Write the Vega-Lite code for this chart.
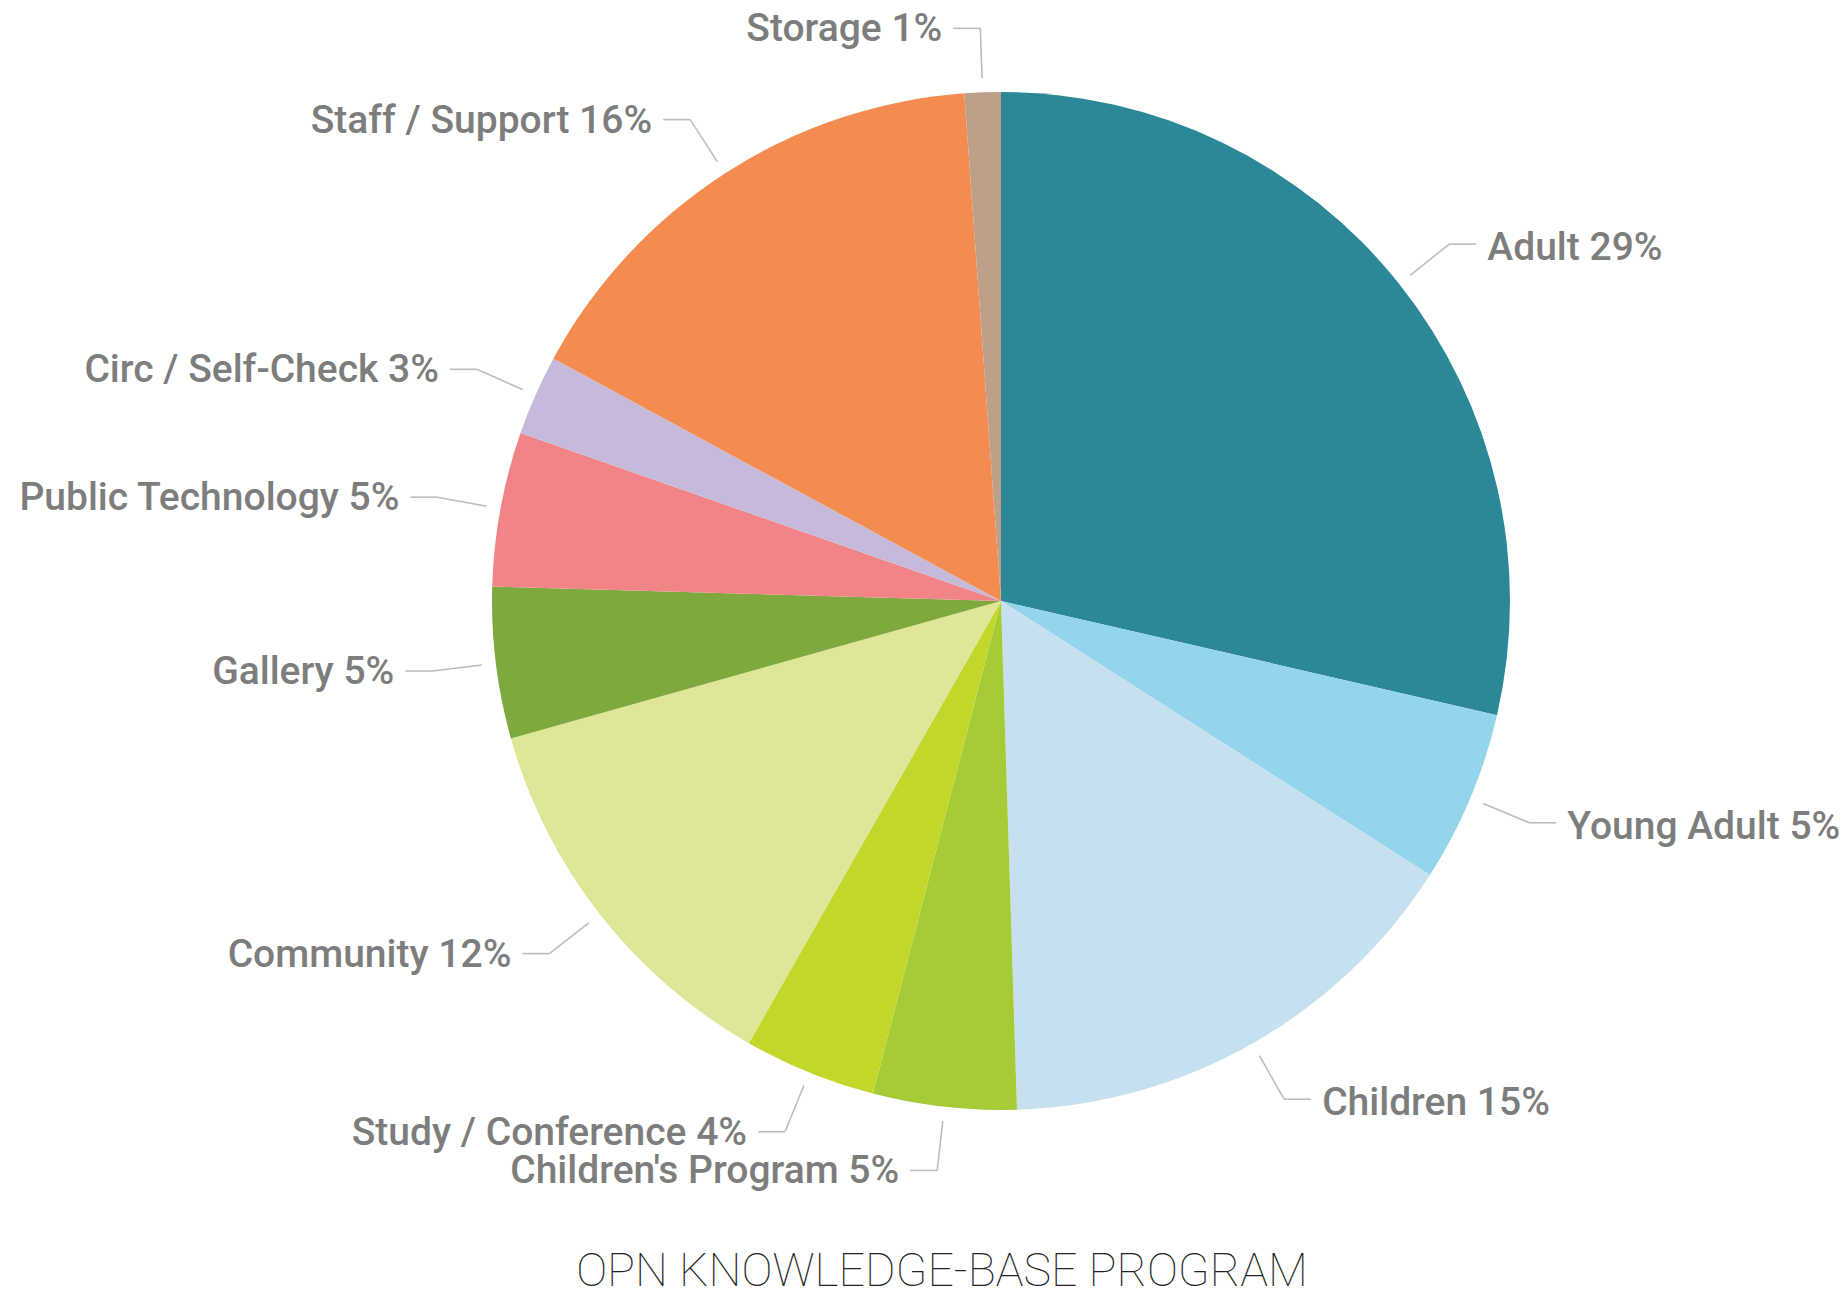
{
  "$schema": "https://vega.github.io/schema/vega-lite/v6.json",
  "autosize": {"type": "none"},
  "padding": {"left": 155, "top": 0, "right": 0, "bottom": 94},
  "width": 1692,
  "height": 1202,
  "background": "white",
  "title": {
    "text": "OPN KNOWLEDGE-BASE PROGRAM",
    "orient": "bottom",
    "frame": "group",
    "anchor": "middle",
    "dx": -59,
    "offset": 47,
    "font": "Roboto",
    "fontWeight": 100,
    "fontSize": 46.5,
    "color": "#222222"
  },
  "config": {"view": {"stroke": null}},
  "data": {
    "values": [
      {"idx": 1, "category": "Adult", "label": "Adult 29%", "value": 28.6},
      {"idx": 2, "category": "Young Adult", "label": "Young Adult 5%", "value": 5.45},
      {"idx": 3, "category": "Children", "label": "Children 15%", "value": 15.45},
      {"idx": 4, "category": "Children's Program", "label": "Children's Program 5%", "value": 4.55},
      {"idx": 5, "category": "Study / Conference", "label": "Study / Conference 4%", "value": 4.2},
      {"idx": 6, "category": "Community", "label": "Community 12%", "value": 12.4},
      {"idx": 7, "category": "Gallery", "label": "Gallery 5%", "value": 4.8},
      {"idx": 8, "category": "Public Technology", "label": "Public Technology 5%", "value": 4.9},
      {"idx": 9, "category": "Circ / Self-Check", "label": "Circ / Self-Check 3%", "value": 2.55},
      {"idx": 10, "category": "Staff / Support", "label": "Staff / Support 16%", "value": 15.95},
      {"idx": 11, "category": "Storage", "label": "Storage 1%", "value": 1.15}
    ]
  },
  "transform": [
    {"joinaggregate": [{"op": "sum", "field": "value", "as": "total"}]},
    {"window": [{"op": "sum", "field": "value", "as": "cum"}], "sort": [{"field": "idx"}], "frame": [null, 0]},
    {"calculate": "2*PI*(datum.cum - datum.value/2)/datum.total", "as": "a"},
    {"calculate": "sin(datum.a)", "as": "s"},
    {"calculate": "cos(datum.a)", "as": "c"},
    {"calculate": "datum.s >= 0 ? 1 : -1", "as": "side"},
    {"calculate": "1.0275*datum.s", "as": "x0"},
    {"calculate": "1.0275*datum.c", "as": "y0"},
    {"calculate": "1.1257*datum.s", "as": "x1"},
    {"calculate": "1.1257*datum.c", "as": "y1"},
    {"calculate": "datum.x1 + datum.side*0.053", "as": "x2"},
    {"calculate": "datum.x1 + datum.side*0.0747", "as": "xt"}
  ],
  "layer": [
    {
      "mark": {"type": "arc", "outerRadius": 509, "stroke": null},
      "encoding": {
        "theta": {"field": "value", "type": "quantitative", "stack": true},
        "order": {"field": "idx", "type": "quantitative"},
        "color": {
          "field": "category",
          "type": "nominal",
          "legend": null,
          "scale": {
            "domain": ["Adult", "Young Adult", "Children", "Children's Program", "Study / Conference", "Community", "Gallery", "Public Technology", "Circ / Self-Check", "Staff / Support", "Storage"],
            "range": ["#2C8898", "#94D4ED", "#C7E0EF", "#A5CC36", "#C2D62C", "#E0E698", "#7FA83F", "#F28488", "#C6B9DA", "#F48C51", "#BEA08A"]
          }
        }
      }
    },
    {
      "mark": {"type": "rule", "color": "#bdbdbd", "strokeWidth": 1.6},
      "encoding": {
        "x": {"field": "x0", "type": "quantitative", "axis": null, "scale": {"domain": [-1.6621, 1.6621], "nice": false, "zero": false}},
        "y": {"field": "y0", "type": "quantitative", "axis": null, "scale": {"domain": [-1.1807, 1.1807], "nice": false, "zero": false}},
        "x2": {"field": "x1"},
        "y2": {"field": "y1"}
      }
    },
    {
      "mark": {"type": "rule", "color": "#bdbdbd", "strokeWidth": 1.6},
      "encoding": {
        "x": {"field": "x1", "type": "quantitative"},
        "y": {"field": "y1", "type": "quantitative"},
        "x2": {"field": "x2"},
        "y2": {"field": "y1"}
      }
    },
    {
      "transform": [{"filter": "datum.side > 0"}],
      "mark": {"type": "text", "align": "left", "baseline": "middle", "dy": 4, "font": "Roboto", "fontWeight": 500, "fontSize": 39, "color": "#7d7d7d"},
      "encoding": {
        "x": {"field": "xt", "type": "quantitative"},
        "y": {"field": "y1", "type": "quantitative"},
        "text": {"field": "label", "type": "nominal"}
      }
    },
    {
      "transform": [{"filter": "datum.side < 0"}],
      "mark": {"type": "text", "align": "right", "baseline": "middle", "dy": 1, "font": "Roboto", "fontWeight": 500, "fontSize": 39, "color": "#7d7d7d"},
      "encoding": {
        "x": {"field": "xt", "type": "quantitative"},
        "y": {"field": "y1", "type": "quantitative"},
        "text": {"field": "label", "type": "nominal"}
      }
    }
  ]
}
